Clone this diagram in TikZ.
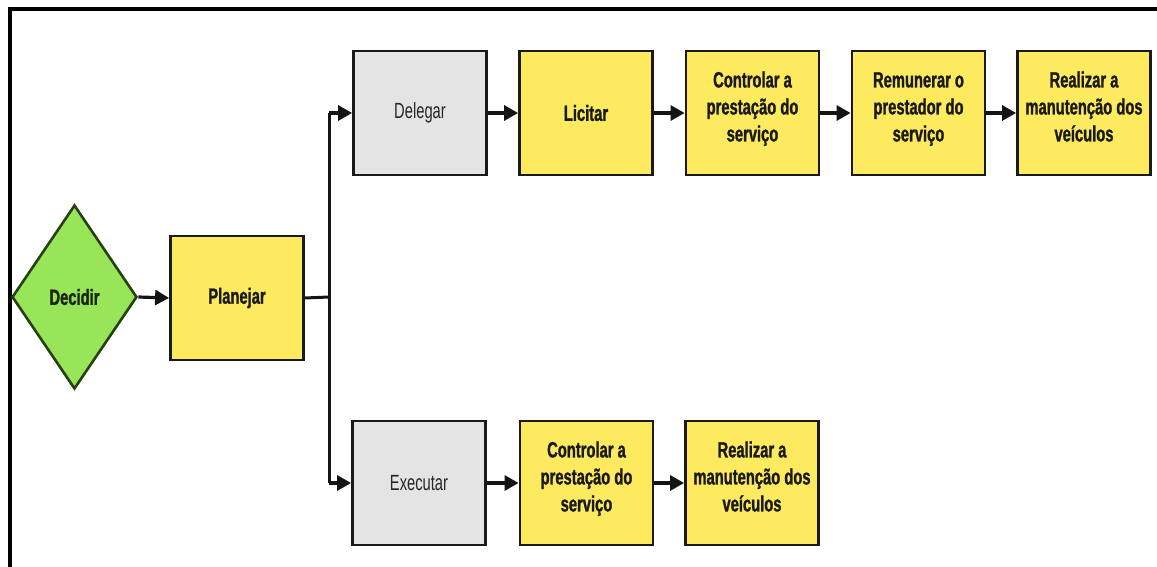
\documentclass[tikz,border=0pt]{standalone}
\usepackage{fontspec}
\setmainfont{Liberation Sans}
\newfontfamily\narrowfont[FakeStretch=0.67, BoldFeatures={FakeBold=1.2}]{Liberation Sans}
\usetikzlibrary{shapes.geometric,arrows.meta}
\definecolor{boxyellow}{HTML}{FDEA5E}
\definecolor{boxgray}{HTML}{E4E4E4}
\definecolor{decgreen}{HTML}{98E55A}
\definecolor{decedge}{HTML}{27400F}
\definecolor{edgedark}{HTML}{1A1A1A}
\definecolor{txtdark}{HTML}{1A1A1A}
% three-line labels sit a little above the box centre
\newcommand{\liftlines}[1]{\raisebox{4pt}[\height][\depth]{\begin{tabular}{@{}c@{}}#1\end{tabular}}}
\tikzset{
  labelfont/.style={font=\narrowfont\fontsize{22}{27}\selectfont#1},
  task/.style={rectangle, draw=edgedark, line width=2.8pt, fill=boxyellow,
    minimum width=133pt, minimum height=124pt, inner sep=1pt,
    labelfont=\bfseries, text=txtdark},
  branch/.style={task, fill=boxgray, labelfont=\mdseries, text=black!85},
  decision/.style={diamond, draw=decedge, line width=2.6pt, fill=decgreen,
    minimum width=125pt, minimum height=184pt, inner sep=0pt,
    labelfont=\bfseries, text=decedge!60!black},
  flow/.style={line width=3.2pt, draw=black!92,
    -{Triangle[length=14pt,width=15pt]}},
  link/.style={line width=3pt, draw=black!92},
}
\begin{document}
\begin{tikzpicture}[x=1pt,y=-1pt]
\useasboundingbox (0,0) rectangle (1157,567);
% outer frame: top and left edges only
\draw[line width=4pt, line cap=rect] (1157,9.5) -- (9.5,9.5) -- (9.5,567);

% nodes
\node[decision] (decidir) at (74.5,297) {Decidir};
\node[task] (planejar) at (237,298) {Planejar};

\node[branch] (delegar) at (420,113) {Delegar};
\node[task] (licitar) at (586,113) {Licitar};
\node[task] (controlA) at (752.5,113) {\liftlines{Controlar a\\prestação do\\serviço}};
\node[task] (remunerar) at (918.5,113) {\liftlines{Remunerar o\\prestador do\\serviço}};
\node[task] (realizarA) at (1084,113) {\liftlines{Realizar a\\manutenção dos\\veículos}};

\node[branch] (executar) at (419,483) {Executar};
\node[task] (controlB) at (586.5,483) {\liftlines{Controlar a\\prestação do\\serviço}};
\node[task] (realizarB) at (752,483) {\liftlines{Realizar a\\manutenção dos\\veículos}};

% split point of the two branches
\coordinate (split) at (329,297);
\coordinate (splitTop) at (329,113);
\coordinate (splitBot) at (329,483);

% connectors
\draw[flow] (decidir.east) -- (planejar.west);
\draw[link] (planejar.east) -- (split);
\draw[link] (splitTop) -- (splitBot);
\draw[flow] (splitTop) -- (delegar.west);
\draw[flow] (splitBot) -- (executar.west);

\draw[flow] (delegar) -- (licitar);
\draw[flow] (licitar) -- (controlA);
\draw[flow] (controlA) -- (remunerar);
\draw[flow] (remunerar) -- (realizarA);

\draw[flow] (executar) -- (controlB);
\draw[flow] (controlB) -- (realizarB);
\end{tikzpicture}
\end{document}
